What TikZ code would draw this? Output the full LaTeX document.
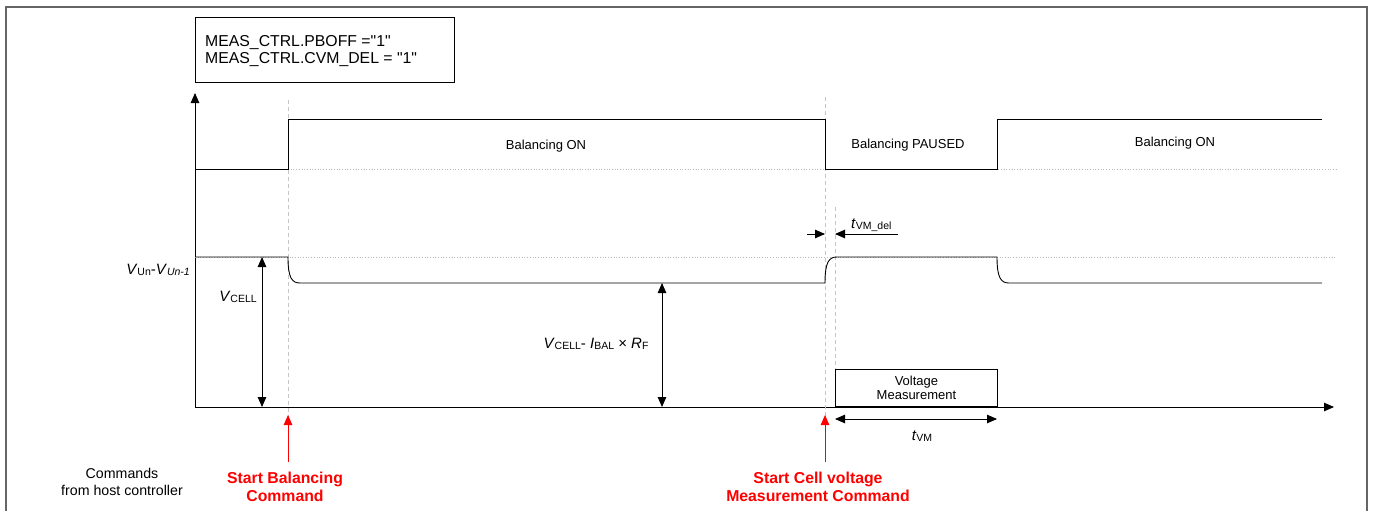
\documentclass[tikz,border=0pt]{standalone}
\usepackage{fontspec}
\setmainfont{Liberation Sans}
\newfontfamily\cfgfont{Liberation Sans}[Ligatures=TeXOff]
\usetikzlibrary{arrows.meta}
\newcommand\fs[1]{\fontsize{#1}{#1}\selectfont}
\newcommand\lowsub[1]{\raisebox{-1.2pt}{\fs{10.5}#1}}
\tikzset{
  wave/.style={line width=0.9pt,black},
  guide/.style={gray!55,dotted,line width=0.7pt},
  vdash/.style={gray!45,dashed,dash pattern=on 4pt off 3pt,line width=0.6pt},
  dim/.style={line width=0.9pt,{Triangle[length=10pt,width=8.5pt]}-{Triangle[length=10pt,width=8.5pt]}},
  onearrow/.style={line width=0.9pt,-{Triangle[length=10pt,width=8.5pt]}},
  redarrow/.style={red,line width=0.9pt,-{Triangle[length=10pt,width=8.5pt]}},
  lbl/.style={inner sep=0pt,font=\fs{13}},
  redlbl/.style={inner sep=0pt,font=\fs{15.8}\bfseries,text=red,align=center},
}
\begin{document}
\begin{tikzpicture}[x=1pt,y=-1pt]
\useasboundingbox (0,0) rectangle (1375,511);
% frame
\draw[gray!80!black,line width=1.8pt] (6,511) -- (6,7) -- (1367,7) -- (1367,511);
% settings box
\node[draw,line width=1.3pt,minimum width=259pt,minimum height=65pt,anchor=north west,inner sep=0pt] (cfg) at (195,17) {};
\node[anchor=west,inner sep=0pt,align=left,font=\cfgfont\fs{15.8}] (cfgtxt) at (205,51) {MEAS\_CTRL.PBOFF ="1"\\[1pt]MEAS\_CTRL.CVM\_DEL = "1"};
% axes
\coordinate (o) at (195,407);
\coordinate (ytop) at (195,93);
\coordinate (xend) at (1334,407);
\draw[onearrow] (o) -- (ytop);
\draw[onearrow] (o) -- (xend);
% guides
\draw[guide] (288,169) -- (1337,169);
\draw[guide] (195,257) -- (1337,257);
% dashed vertical lines
\draw[vdash] (288,100) -- (288,425);
\draw[vdash] (825,97) -- (825,425);
\draw[vdash] (835,207) -- (835,407);
% balancing waveform
\draw[wave] (195,169) -- (288,169) -- (288,119) -- (825,119) -- (825,169) -- (997,169) -- (997,119) -- (1322,119);
% cell voltage waveform
\draw[wave] (195,257) -- (288,257) .. controls (288,278) and (292,283) .. (300,283) -- (825,283)
  .. controls (825,262) and (829,257) .. (837,257) -- (997,257)
  .. controls (997,278) and (1001,283) .. (1009,283) -- (1322,283);
% labels for states
\node[lbl] (bon1) at (546,146) {Balancing ON};
\node[lbl] (bpause) at (908,145) {Balancing PAUSED};
\node[lbl] (bon2) at (1175,143) {Balancing ON};
% VUn label
\node[anchor=east,inner sep=0pt,font=\fs{15}] (vun) at (190,270) {\textit{V}\lowsub{Un}-\textit{V}\lowsub{\itshape Un-1}};
% VCELL dimension
\coordinate (vc1) at (262,257);
\coordinate (vc2) at (262,407);
\draw[dim] (vc1) -- (vc2);
\node[inner sep=0pt,font=\fs{15}] (vcell) at (238,297) {\textit{V}\lowsub{CELL}};
% VCELL - IBAL x RF dimension
\coordinate (vr1) at (662,283);
\coordinate (vr2) at (662,407);
\draw[dim] (vr1) -- (vr2);
\node[inner sep=0pt,font=\fs{15}] (vcr) at (596,344) {\textit{V}\lowsub{CELL}- \textit{I}\lowsub{BAL} × \textit{R}\lowsub{F}};
% tVM_del
\coordinate (d1s) at (807,234);
\coordinate (d1e) at (825,234);
\coordinate (d2s) at (898,234);
\coordinate (d2e) at (835,234);
\draw[onearrow] (d1s) -- (d1e);
\draw[onearrow] (d2s) -- (d2e);
\node[anchor=west,inner sep=0pt,font=\fs{15}] (tdel) at (851,225) {\textit{t}\lowsub{VM\_del}};
% Voltage measurement box
\node[draw,line width=0.9pt,minimum width=162pt,minimum height=37pt,anchor=south west,inner sep=0pt,align=center,font=\fs{13}] (vm) at (835,407) {Voltage\\[1pt]Measurement};
\coordinate (tv1) at (835,419);
\coordinate (tv2) at (997,419);
\draw[dim] (tv1) -- (tv2);
\node[inner sep=0pt,font=\fs{15}] (tvm) at (922,436) {\textit{t}\lowsub{VM}};
% commands
\node[inner sep=0pt,align=center,font=\fs{14.2}] (cmds) at (122,482) {Commands\\[2pt]from host controller};
\coordinate (r1s) at (288,462);
\coordinate (r1e) at (288,415);
\coordinate (r2s) at (825,462);
\coordinate (r2e) at (825,415);
\draw[redarrow] (r1s) -- (r1e);
\draw[redarrow] (r2s) -- (r2e);
\node[redlbl] (cmd1) at (285,487) {Start Balancing\\[2pt]Command};
\node[redlbl] (cmd2) at (818,487) {Start Cell voltage\\[2pt]Measurement Command};
\end{tikzpicture}
\end{document}
